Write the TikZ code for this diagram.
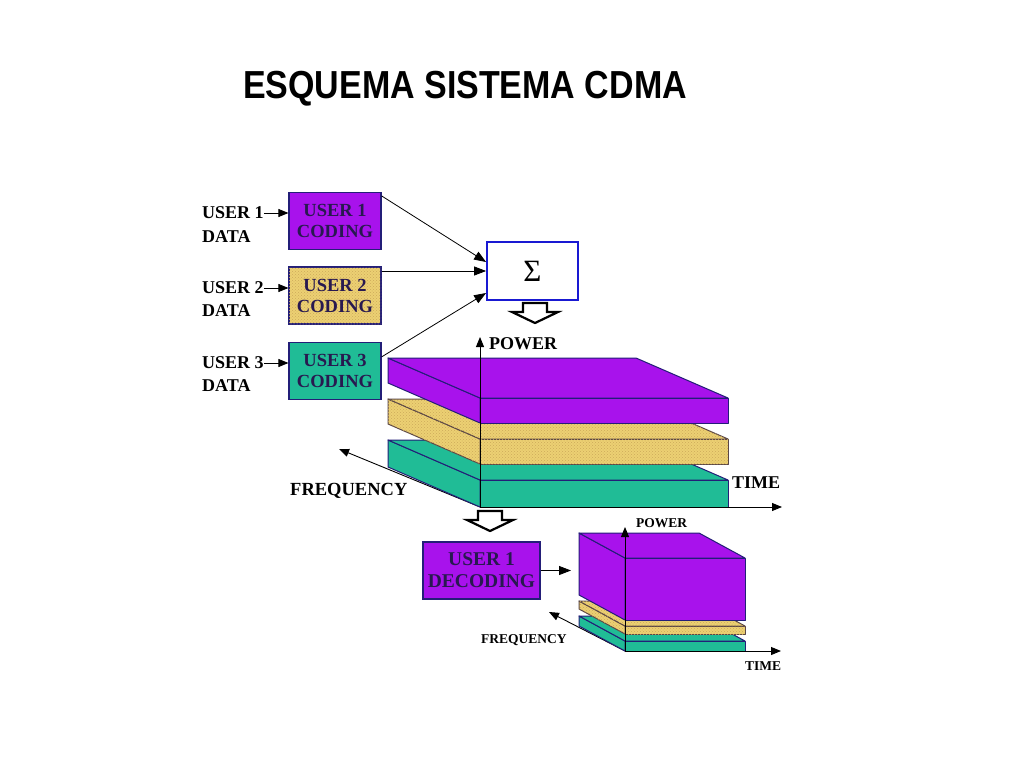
\documentclass[tikz,border=0pt]{standalone}
\usepackage{fontspec}
\setmainfont{Liberation Serif}
\newfontfamily\arialb{Liberation Sans}
\usetikzlibrary{arrows.meta,calc,patterns}
\definecolor{cpurple}{RGB}{168,18,236}
\definecolor{cyellow}{RGB}{236,208,115}
\definecolor{cyelldot}{RGB}{205,170,90}
\definecolor{cteal}{RGB}{32,188,150}
\definecolor{cnavy}{RGB}{35,30,120}
\definecolor{cbrown}{RGB}{90,70,70}
\definecolor{ctext}{RGB}{40,25,80}
\definecolor{cblue}{RGB}{25,25,210}
\tikzset{
  slabline/.style={line width=1pt,line join=round},
  yelltex/.style={postaction={pattern=crosshatch dots,pattern color=cyelldot}},
  notex/.style={},
  codebox/.style={draw=cnavy,line width=1.2pt,minimum width=92pt,minimum height=57pt,
    inner sep=0pt,align=center,text=ctext,font=\fontsize{18.5}{21}\selectfont\bfseries},
  sigbox/.style={draw=cblue,line width=1.8pt,fill=white,minimum width=91pt,minimum height=58pt,inner sep=0pt},
  lbl/.style={anchor=west,inner sep=0pt,font=\fontsize{18}{20}\selectfont\bfseries},
  slbl/.style={anchor=west,inner sep=0pt,font=\fontsize{13.5}{15}\selectfont\bfseries},
  conn/.style={line width=0.8pt,-{Triangle[length=12pt,width=9pt]}},
  short/.style={line width=0.8pt,-{Triangle[length=10pt,width=8pt]}},
  axis/.style={line width=0.9pt,-{Triangle[length=10pt,width=8pt]}},
  harrow/.pic={\draw[line width=2.2pt,fill=white,line join=miter]
     (-12,0) -- (12,0) -- (12,9) -- (23,9) -- (0,20) -- (-23,9) -- (-12,9) -- cycle;}
}
% slab: front-left x, front-right x, top y, thickness, depth dx, depth dy, fill, line, texture style
\newcommand\slab[9]{%
\filldraw[fill=#7,draw=#8,slabline,#9] (#1,#3) -- ({#1-#5},{#3-#6}) -- ({#1-#5},{#3-#6+#4}) -- (#1,{#3+#4}) -- cycle;
\filldraw[fill=#7,draw=#8,slabline,#9] (#1,#3) -- (#2,#3) -- ({#2-#5},{#3-#6}) -- ({#1-#5},{#3-#6}) -- cycle;
\filldraw[fill=#7,draw=#8,slabline,#9] (#1,#3) rectangle (#2,{#3+#4});
}
\begin{document}
\begin{tikzpicture}[x=1pt,y=-1pt]
\fill[white] (0,0) rectangle (1024,768);
\useasboundingbox (0,0) rectangle (1024,768);

% title
\node[inner sep=0pt] (title) at (465,89) {\scalebox{1}[1.15]{\arialb\fontsize{34}{34}\selectfont\bfseries ESQUEMA SISTEMA CDMA}};

% coding boxes
\node[codebox,fill=cpurple] (c1) at (335,221) {USER 1\\CODING};
\node[codebox,fill=cyellow,yelltex] (c2) at (335,295.5) {USER 2\\CODING};
\node[codebox,fill=cteal] (c3) at (335,371) {USER 3\\CODING};

% data labels
\node[lbl] (u1) at (202,213) {USER 1};
\node[lbl] (d1) at (202,237) {DATA};
\node[lbl] (u2) at (202,288) {USER 2};
\node[lbl] (d2) at (202,311) {DATA};
\node[lbl] (u3) at (202,363) {USER 3};
\node[lbl] (d3) at (202,386) {DATA};
\draw[short] (u1.east) -- (u1.east -| c1.west);
\draw[short] (u2.east) -- (u2.east -| c2.west);
\draw[short] (u3.east) -- (u3.east -| c3.west);

% sigma
\node[sigbox] (sig) at (532.5,271) {\fontsize{31}{31}\selectfont Σ};
\draw[conn] ([yshift=-4pt]c1.north east) -- ([yshift=9pt]sig.west);
\draw[conn] (sig.west -| c2.east) -- (sig.west);
\draw[conn] ([yshift=-15pt]c3.north east) -- ([yshift=-22pt]sig.west);

\pic at (535,303) {harrow};

% big stack
\coordinate (O) at (480,507);
\coordinate (Pt) at (480,337);
\coordinate (Tt) at (782,507);
\coordinate (Ft) at (339,449);
\draw[axis] (O) -- (Ft);
\slab{480}{728}{480}{27}{92}{40}{cteal}{cnavy}{notex}
\slab{480}{728}{439}{25}{92}{40}{cyellow}{cbrown}{yelltex}
\slab{480}{728}{398}{25}{92}{40}{cpurple}{cnavy}{notex}
\draw[axis] (O) -- (Pt);
\draw[axis] (O) -- (Tt);
\node[lbl] (pw) at (489,344) {POWER};
\node[lbl] (tm) at (732,483) {TIME};
\node[lbl,font=\fontsize{18.5}{20}\selectfont\bfseries] (fq) at (290,491) {FREQUENCY};

\pic at (490,511) {harrow};

% decoding
\node[codebox,fill=cpurple,minimum width=117pt,font=\fontsize{19.5}{22}\selectfont\bfseries] (dec) at (481.5,570.5) {USER 1\\DECODING};
\coordinate (de) at (571,570.5);
\draw[conn] (dec.east) -- (de);

% small stack
\coordinate (o) at (625,651);
\coordinate (pt) at (625,527);
\coordinate (tt) at (781,651);
\coordinate (ft) at (549,612);
\draw[axis] (o) -- (ft);
\slab{625}{745}{641}{10}{46}{25}{cteal}{cnavy}{notex}
\slab{625}{745}{626}{8}{46}{25}{cyellow}{cbrown}{yelltex}
\slab{625}{745}{558}{62}{46}{25}{cpurple}{cnavy}{notex}
\draw[axis] (o) -- (pt);
\draw[axis] (o) -- (tt);
\node[slbl] (spw) at (636,523) {POWER};
\node[slbl] (stm) at (745,666) {TIME};
\node[slbl] (sfq) at (481,640) {FREQUENCY};
\end{tikzpicture}
\end{document}
